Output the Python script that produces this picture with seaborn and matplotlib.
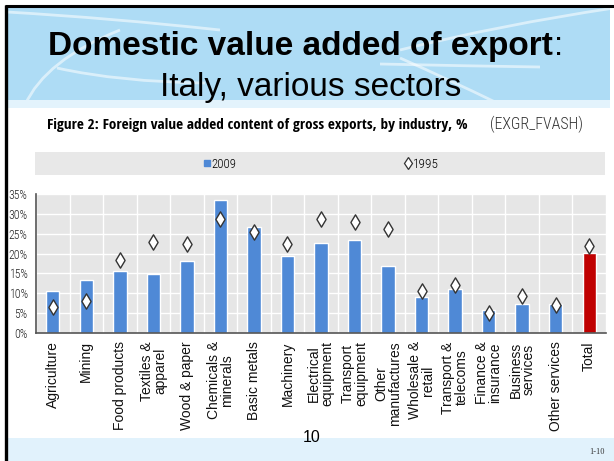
import numpy as np
import pandas as pd
import matplotlib
matplotlib.use("Agg")
import matplotlib.pyplot as plt
import matplotlib.font_manager as fm
from matplotlib.textpath import TextPath
from matplotlib.patches import Rectangle, PathPatch
from matplotlib.path import Path
import seaborn as sns

# ---- data -----------------------------------------------------------------
sectors = ["Agriculture", "Mining", "Food products", "Textiles &\napparel",
           "Wood & paper", "Chemicals &\nminerals", "Basic metals", "Machinery",
           "Electrical\nequipment", "Transport\nequipment", "Other\nmanufactures",
           "Wholesale &\nretail", "Transport &\ntelecoms", "Finance &\ninsurance",
           "Business\nservices", "Other services", "Total"]
share_2009 = [10.7, 13.4, 15.5, 14.8, 18.1, 33.4, 26.8, 19.3, 22.7, 23.4,
              16.9, 9.1, 11.2, 5.9, 7.4, 7.4, 20.1]
share_1995 = [6.5, 8.1, 18.5, 23.0, 22.4, 28.6, 25.4, 22.3, 28.7, 27.9,
              26.1, 10.5, 12.0, 5.0, 9.2, 7.0, 21.8]
y_ticks = [0, 5, 10, 15, 20, 25, 30, 35]
series_labels = ["2009", "1995"]

BLUE = "#4F89D6"
RED = "#C00000"
HEADER = "#AEDCF5"

df = pd.DataFrame({"sector": sectors, "v2009": share_2009, "v1995": share_1995})
bar_colors = {s: (RED if s == "Total" else BLUE) for s in sectors}

sns.set_style("white")
plt.rcParams["font.family"] = ["Liberation Sans", "DejaVu Sans"]
plt.rcParams["text.color"] = "black"
plt.rcParams["xtick.labelcolor"] = "#111111"
plt.rcParams["ytick.labelcolor"] = "#222222"

# ---- a condensed sans face (regular and bold) ---------------------------------
SAMPLE = "Foreign value added"
SANS = ("Liberation Sans", "DejaVu Sans", "Noto Sans", "Roboto", "Open Sans", "Lato", "Inter")


def _width(fp):
    try:
        return TextPath((0, 0), SAMPLE, size=10, prop=fp).get_extents().width
    except Exception:
        return None


def _is_bold(f):
    w = f.weight
    if isinstance(w, str):
        return w in ("bold", "heavy", "black", "extra bold", "semibold", "demibold", "demi")
    return w >= 600


def _is_narrow(f):
    st = str(f.stretch)
    return (any(k in f.name for k in ("Narrow", "Condensed"))
            or st in ("condensed", "semi-condensed", "extra-condensed")
            or (st.isdigit() and int(st) < 500))


def pick_condensed(bold, ratio=0.82):
    ref = _width(fm.FontProperties(family="Liberation Sans",
                                   weight="bold" if bold else "normal"))
    cands = [f for f in fm.fontManager.ttflist
             if f.style == "normal" and f.name.startswith(SANS)
             and "Mono" not in f.name and "Serif" not in f.name
             and _is_narrow(f) and _is_bold(f) == bold]
    best, best_err = None, None
    for f in cands[:40]:
        w = _width(fm.FontProperties(fname=f.fname))
        if not w or not ref:
            continue
        err = abs(w / ref - ratio)
        if best_err is None or err < best_err:
            best, best_err = f.fname, err
    if best is None:
        return fm.FontProperties(family="Liberation Sans",
                                 weight="bold" if bold else "normal")
    return fm.FontProperties(fname=best)


NARROW = pick_condensed(False)
NARROW_BOLD = pick_condensed(True)


def narrow(size, bold=False):
    fp = (NARROW_BOLD if bold else NARROW).copy()
    fp.set_size(size)
    return fp


W, H = 614, 461
fig = plt.figure(figsize=(W / 100, H / 100), dpi=100)


def box(x0, y0, x1, y1):
    return [x0 / W, 1 - y1 / H, (x1 - x0) / W, (y1 - y0) / H]


def fit_width(txt, target_px):
    """Scale a text so its rendered width matches target_px."""
    r = fig.canvas.get_renderer()
    w = txt.get_window_extent(renderer=r).width
    if w > 0:
        txt.set_fontsize(txt.get_fontsize() * target_px / w)


# ---- slide background, header and footer ------------------------------------
bg = fig.add_axes([0, 0, 1, 1])
bg.set_xlim(0, W)
bg.set_ylim(H, 0)
bg.axis("off")

header = Rectangle((7, 7), 603, 93, facecolor=HEADER, edgecolor="none")
bg.add_patch(header)
bg.add_patch(Rectangle((7, 100), 603, 8, facecolor="#E3F3FC", edgecolor="none"))
bg.add_patch(Rectangle((7, 438), 607, 23, facecolor="#E1F2FC", edgecolor="none"))

# decorative swooshes in the header
curves = [
    [(7, 12), (110, 18), (220, 30)],
    [(25, 105), (45, 60), (120, 30)],
    [(57, 68), (120, 82), (205, 83)],
    [(400, 50), (500, 25), (614, 8)],
    [(380, 64), (470, 66), (540, 67)],
    [(400, 58), (450, 80), (495, 102)],
]
for pts in curves:
    p = PathPatch(Path(pts, [Path.MOVETO, Path.CURVE3, Path.CURVE3]),
                  facecolor="none", edgecolor="white", lw=2.0, alpha=0.55)
    bg.add_patch(p)
    p.set_clip_path(header)

bg.plot([5, 614], [6, 6], color="black", lw=2.2, solid_capstyle="butt")
bg.plot([6, 6], [5, 461], color="black", lw=2.4, solid_capstyle="butt")

t1 = bg.text(48, 55, "Domestic value added of export", fontsize=24,
             fontweight="bold", ha="left", va="baseline")
bg.annotate(":", xy=(1, 0), xycoords=t1, xytext=(1, 0),
            textcoords="offset points", fontsize=24, ha="left", va="bottom")
bg.text(311, 96, "Italy, various sectors", fontsize=24, ha="center", va="baseline")

cap = bg.text(47, 129, "Figure 2: Foreign value added content of gross exports, by industry, %",
              fontproperties=narrow(10.5, bold=True), ha="left", va="baseline")
code = bg.text(490, 129, "(EXGR_FVASH)", fontproperties=narrow(10), color="#333333",
               ha="left", va="baseline")

bg.text(312, 437, "10", fontsize=11.5, ha="center", va="center")
bg.text(597, 452, "1-10", fontsize=6, family=["Liberation Serif", "DejaVu Serif"],
        color="#333333", ha="center", va="center")

# ---- legend band -----------------------------------------------------------
lg = fig.add_axes(box(35, 152, 605, 175))
lg.set_xlim(35, 605)
lg.set_ylim(175, 152)
lg.set_facecolor("#E8E8E8")
lg.set_xticks([])
lg.set_yticks([])
for s in lg.spines.values():
    s.set_visible(False)
lg.plot([207], [163.5], marker="s", ms=5, color=BLUE, ls="")
l1 = lg.text(211, 164, series_labels[0], fontproperties=narrow(9), va="center", ha="left")
lg.plot([408], [163.5], marker="d", ms=6, mfc="white", mec="#333333", mew=0.9, ls="")
l2 = lg.text(413, 164, series_labels[1], fontproperties=narrow(9), va="center", ha="left")

# ---- chart -----------------------------------------------------------------
ax = fig.add_axes(box(36, 194, 606, 333))
ax.set_facecolor("#E6E6E6")
sns.barplot(data=df, x="sector", y="v2009", hue="sector", palette=bar_colors,
            legend=False, width=0.4, saturation=1, ax=ax, zorder=2)
sns.stripplot(data=df, x="sector", y="v1995", jitter=False, marker="d",
              color="white", edgecolor="#333333", linewidth=1.0, size=7.8,
              ax=ax, zorder=3)

ax.set_xlim(-0.5, len(sectors) - 0.5)
ax.set_ylim(0, 35)
ax.set_xlabel("")
ax.set_ylabel("")
ax.set_yticks(y_ticks)
ax.set_yticklabels([f"{t}%" for t in y_ticks], fontproperties=narrow(8.5))
ax.set_xticks(range(len(sectors)))
ax.set_xticklabels(sectors, rotation=90, ha="center", va="top", fontsize=10,
                   linespacing=0.95)
for lbl in ax.get_xticklabels():
    lbl.set_multialignment("center")
ax.set_xticks(np.arange(-0.5, len(sectors), 1), minor=True)
ax.tick_params(axis="x", which="major", length=0, pad=6)
ax.tick_params(axis="x", which="minor", direction="in", length=4, color="#555555", width=1)
ax.tick_params(axis="y", direction="out", length=3, color="#555555", width=1, pad=3)
ax.grid(axis="y", which="major", color="white", lw=1)
ax.grid(axis="x", which="minor", color="white", lw=1)
ax.set_axisbelow(True)
for side in ("top", "right"):
    ax.spines[side].set_visible(False)
for side in ("left", "bottom"):
    ax.spines[side].set_color("#555555")
    ax.spines[side].set_linewidth(1.2)

# caption texts are sized to their printed widths
fig.canvas.draw()
fit_width(cap, 420)
fit_width(code, 93)
fit_width(l1, 25)
fit_width(l2, 26)

fig.savefig("out.png", dpi=100)
